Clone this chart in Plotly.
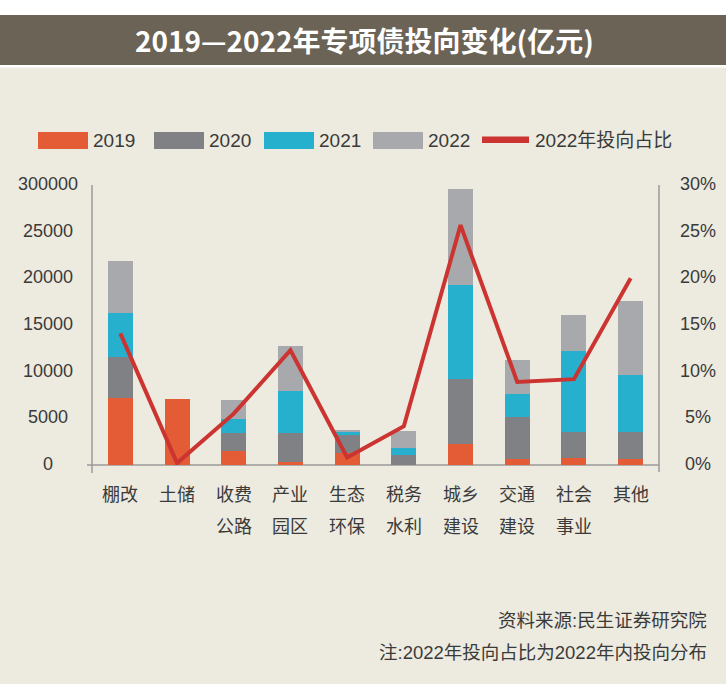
import plotly.graph_objects as go

# ---------------- data ----------------
categories = ["棚改", "土储", "收费公路", "产业园区", "生态环保", "税务水利", "城乡建设", "交通建设", "社会事业", "其他"]
v2019 = [7200, 7100, 1500, 350, 1250, 0, 2300, 640, 780, 620]
v2020 = [4400, 0, 1900, 3050, 2050, 1050, 6950, 4460, 2720, 2880]
v2021 = [4700, 0, 1500, 4500, 200, 800, 10000, 2550, 8700, 6100]
v2022 = [5600, 0, 2100, 4900, 300, 1750, 10350, 3550, 3850, 7950]
share2022 = [0.141, 0.002, 0.055, 0.123, 0.008, 0.0415, 0.257, 0.089, 0.092, 0.200]

left_tickvals = [0, 5000, 10000, 15000, 20000, 25000, 30000]
left_ticktext = ["0", "5000", "10000", "15000", "20000", "25000", "300000"]
right_tickvals = [0, 0.05, 0.10, 0.15, 0.20, 0.25, 0.30]
right_ticktext = ["0%", "5%", "10%", "15%", "20%", "25%", "30%"]

series_names = ["2019", "2020", "2021", "2022"]
series_colors = ["#e35c36", "#808185", "#27afce", "#a8a9ad"]
line_name = "2022年投向占比"
line_color = "#cc3431"

title_text = "2019—2022年专项债投向变化(亿元)"
note1 = "资料来源:民生证券研究院"
note2 = "注:2022年投向占比为2022年内投向分布"

# ---------------- layout geometry ----------------
W, H = 726, 684
L, R, T, B = 92, 659, 185, 465  # plot area in pixels
PW, PH = R - L, B - T


def px(x):
    return (x - L) / PW


def py(y):
    return (B - y) / PH


BG = "#edeadf"
TEXT = "#3a3a3a"
FONT = "Liberation Sans, Noto Sans CJK SC, sans-serif"

fig = go.Figure()

x_idx = list(range(len(categories)))
for name, vals, col in zip(series_names, [v2019, v2020, v2021, v2022], series_colors):
    fig.add_trace(go.Bar(x=x_idx, y=vals, name=name, marker=dict(color=col, line=dict(width=0)),
                         width=0.44, showlegend=False))

fig.add_trace(go.Scatter(x=x_idx, y=share2022, name=line_name, mode="lines",
                         line=dict(color=line_color, width=4), yaxis="y2", showlegend=False))

shapes = []
annotations = []

# header band
shapes.append(dict(type="rect", xref="paper", yref="paper", x0=px(0), x1=px(W), y0=py(0), y1=py(15),
                   fillcolor="#ffffff", line=dict(width=0), layer="below"))
shapes.append(dict(type="rect", xref="paper", yref="paper", x0=px(0), x1=px(W), y0=py(15), y1=py(65),
                   fillcolor="#6b6356", line=dict(width=0), layer="below"))
shapes.append(dict(type="rect", xref="paper", yref="paper", x0=px(0), x1=px(W), y0=py(65), y1=py(67.5),
                   fillcolor="#ffffff", line=dict(width=0), layer="below"))
annotations.append(dict(text="<b>" + title_text + "</b>", xref="paper", yref="paper", x=px(364), y=py(40),
                        xanchor="center", yanchor="middle", showarrow=False,
                        font=dict(family="Noto Sans CJK SC", size=28, color="#ffffff")))

# axis lines
axis_col = "#9a9a9a"
shapes.append(dict(type="line", xref="paper", yref="paper", x0=0, x1=0, y0=py(473), y1=1,
                   line=dict(color=axis_col, width=1.5), layer="below"))
shapes.append(dict(type="line", xref="paper", yref="paper", x0=1, x1=1, y0=py(472), y1=1,
                   line=dict(color=axis_col, width=1.5), layer="below"))
shapes.append(dict(type="line", xref="paper", yref="paper", x0=px(87), x1=1, y0=0, y1=0,
                   line=dict(color=axis_col, width=1.5), layer="below"))

# tick labels (centered columns)
for v, t in zip(left_tickvals, left_ticktext):
    annotations.append(dict(text=t, xref="paper", yref="y", x=px(48), y=v, xanchor="center",
                            yanchor="middle", showarrow=False, yshift=1,
                            font=dict(family=FONT, size=18, color=TEXT)))
for v, t in zip(right_tickvals, right_ticktext):
    annotations.append(dict(text=t, xref="paper", yref="y2", x=px(698), y=v, xanchor="center",
                            yanchor="middle", showarrow=False, yshift=1,
                            font=dict(family=FONT, size=18, color=TEXT)))

# category labels (two rows of two characters)
for i, c in enumerate(categories):
    rows = [c[:2], c[2:]]
    for r, txt in enumerate(rows):
        if not txt:
            continue
        annotations.append(dict(text=txt, xref="x", yref="paper", x=i, y=py(495 + 32 * r),
                                xanchor="center", yanchor="middle", showarrow=False,
                                font=dict(family=FONT, size=18, color=TEXT)))

# custom legend
box_x = [38, 154, 264, 373]
for bx, name, col in zip(box_x, series_names, series_colors):
    shapes.append(dict(type="rect", xref="paper", yref="paper", x0=px(bx), x1=px(bx + 50),
                       y0=py(149), y1=py(132), fillcolor=col, line=dict(width=0)))
    annotations.append(dict(text=name, xref="paper", yref="paper", x=px(bx + 53), y=py(140.5),
                            xanchor="left", yanchor="middle", showarrow=False,
                            font=dict(family=FONT, size=19, color=TEXT)))
shapes.append(dict(type="rect", xref="paper", yref="paper", x0=px(482), x1=px(529),
                   y0=py(143), y1=py(136.5), fillcolor=line_color, line=dict(width=0)))
annotations.append(dict(text=line_name, xref="paper", yref="paper", x=px(533), y=py(140.5),
                        xanchor="left", yanchor="middle", showarrow=False,
                        font=dict(family=FONT, size=19, color=TEXT)))

# footnotes
annotations.append(dict(text=note1, xref="paper", yref="paper", x=px(709), y=py(620),
                        xanchor="right", yanchor="middle", showarrow=False,
                        font=dict(family=FONT, size=18.5, color=TEXT)))
annotations.append(dict(text=note2, xref="paper", yref="paper", x=px(709), y=py(652),
                        xanchor="right", yanchor="middle", showarrow=False,
                        font=dict(family=FONT, size=18.5, color=TEXT)))

fig.update_layout(
    width=W, height=H,
    margin=dict(l=L, r=W - R, t=T, b=H - B, pad=0),
    paper_bgcolor=BG, plot_bgcolor=BG,
    barmode="stack", bargap=0,
    showlegend=False,
    xaxis=dict(range=[-0.5, len(categories) - 0.5], showticklabels=False, showgrid=False,
               zeroline=False, showline=False, fixedrange=True),
    yaxis=dict(range=[0, 30000], showticklabels=False, showgrid=False, zeroline=False,
               showline=False, fixedrange=True),
    yaxis2=dict(range=[0, 0.30], overlaying="y", side="right", showticklabels=False,
                showgrid=False, zeroline=False, showline=False, fixedrange=True),
    shapes=shapes,
    annotations=annotations,
    font=dict(family=FONT, color=TEXT),
)

fig.write_html("out.html", config={"displayModeBar": False})
